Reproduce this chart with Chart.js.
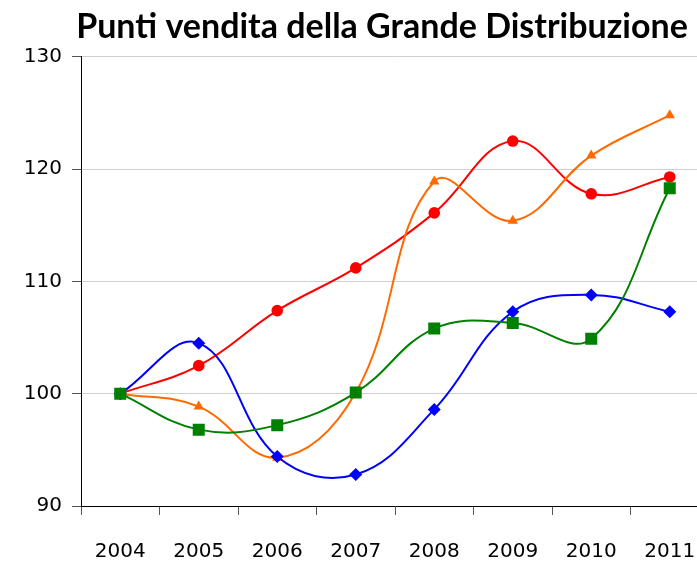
<!DOCTYPE html>
<html>
<head>
<meta charset="utf-8">
<script src="https://cdn.jsdelivr.net/npm/chart.js@4"></script>
<style>
  body { margin: 0; overflow: hidden; background: #fff; }
  #wrap { width: 764px; height: 561px; position: relative; }
</style>
</head>
<body>
<div id="wrap"><canvas id="line-chart"></canvas></div>
<script>
const anni = ['2004', '2005', '2006', '2007', '2008', '2009', '2010', '2011'];
const rosso = [100, 102.5, 107.4, 111.2, 116.1, 122.5, 117.8, 119.3];
const arancio = [100, 98.85, 94.3, 100.1, 118.9, 115.4, 121.2, 124.8];
const blu = [100, 104.5, 94.4, 92.8, 98.6, 107.3, 108.8, 107.3];
const verde = [100, 96.8, 97.2, 100.1, 105.8, 106.3, 104.9, 118.3];

const tickFont = { family: 'DejaVu Sans', size: 20 };

function serie(data, colore, stile, raggio, ordine) {
    return {
        data: data,
        borderColor: colore,
        backgroundColor: colore,
        borderWidth: 2,
        pointStyle: stile,
        pointRadius: raggio,
        pointBorderWidth: 0,
        tension: 0.4,
        order: ordine,
        yAxisID: 'y'
    };
}

const lnc = document.getElementById('line-chart');
new Chart(lnc, {
    type: 'line',
    data: {
        labels: anni,
        datasets: [
            serie(rosso, '#ff0000', 'circle', 5.8, 3),
            serie(arancio, '#ff6a00', 'triangle', 6, 2),
            serie(blu, '#0000ff', 'rectRot', 6.5, 1),
            serie(verde, '#008000', 'rect', 8.5, 0)
        ]
    },
    options: {
        responsive: true,
        maintainAspectRatio: false,
        devicePixelRatio: 1,
        animation: false,
        layout: { padding: 0 },
        plugins: {
            legend: { display: false },
            tooltip: { enabled: false },
            title: {
                display: true,
                text: 'Punti vendita della Grande Distribuzione',
                color: '#000',
                font: { family: 'Lato', size: 34, weight: 'bold', lineHeight: 1.2 },
                padding: { top: 7, bottom: 9 }
            }
        },
        scales: {
            x: {
                offset: true,
                afterFit: function (scale) { scale.height = 55; },
                grid: { offset: true, drawOnChartArea: false, tickLength: 9, tickColor: '#555' },
                border: { color: '#000', width: 1 },
                ticks: { font: tickFont, color: '#000', padding: 25, maxRotation: 0 }
            },
            y: {
                min: 90,
                max: 130,
                afterFit: function (scale) { scale.width = 81; },
                grid: { color: '#d0d0d0', tickLength: 9, tickColor: '#555' },
                border: { color: '#000', width: 1 },
                ticks: { stepSize: 10, font: tickFont, color: '#000', padding: 10 }
            },
            // spazio vuoto a destra (il grafico esce dalla finestra)
            destra: {
                position: 'right',
                min: 90,
                max: 130,
                afterFit: function (scale) { scale.width = 55; },
                grid: { display: false },
                border: { display: false },
                ticks: { display: false }
            }
        }
    }
});
</script>
</body>
</html>
